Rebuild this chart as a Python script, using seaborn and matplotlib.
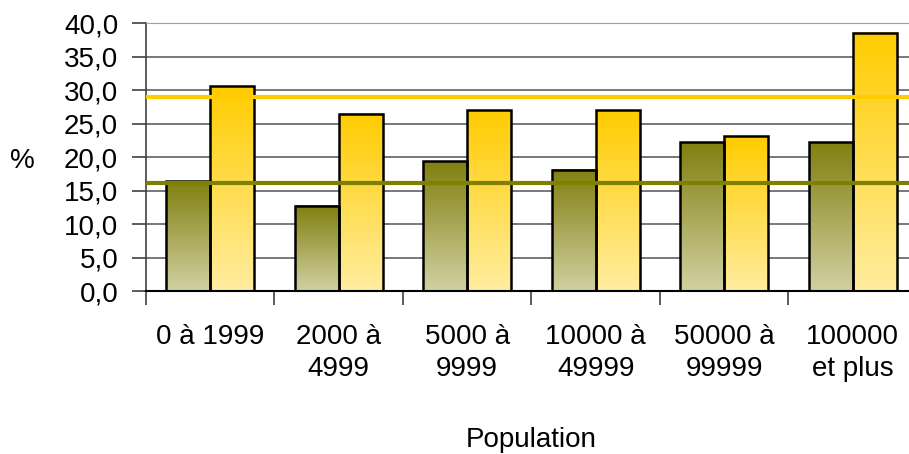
import numpy as np
import pandas as pd
import matplotlib
matplotlib.use("Agg")
import matplotlib.pyplot as plt
import seaborn as sns
from matplotlib.colors import LinearSegmentedColormap

# data
categories = ["0 à 1999", "2000 à\n4999", "5000 à\n9999", "10000 à\n49999", "50000 à\n99999", "100000\net plus"]
serie_verte = [16.4, 12.7, 19.4, 18.1, 22.2, 22.2]
serie_jaune = [30.6, 26.5, 27.0, 27.0, 23.1, 38.6]
moyenne_verte = 16.1
moyenne_jaune = 28.9

sns.set_style("white")
plt.rcParams['font.family'] = ['Liberation Sans', 'DejaVu Sans']
plt.rcParams['text.color'] = 'black'
plt.rcParams['axes.labelcolor'] = 'black'
plt.rcParams['xtick.color'] = 'black'
plt.rcParams['ytick.color'] = 'black'

df = pd.DataFrame({
    "cat": categories * 2,
    "serie": ["verte"] * 6 + ["jaune"] * 6,
    "val": serie_verte + serie_jaune,
})

fig = plt.figure(figsize=(9.09, 4.54), dpi=100)
ax = fig.add_axes([0.1606, 0.359, 0.848, 0.590])

sns.barplot(data=df, x="cat", y="val", hue="serie", palette=["#808010", "#ffcc00"],
            width=0.685, legend=False, ax=ax, zorder=2, saturation=1)

# gradient fill for the bars
cmap_v = LinearSegmentedColormap.from_list("v", ["#d2d0a2", "#808010"])
cmap_j = LinearSegmentedColormap.from_list("j", ["#ffeda0", "#ffcc00"])
grad = np.linspace(0, 1, 256).reshape(-1, 1)
for i, p in enumerate(list(ax.patches)):
    x0, y0 = p.get_x(), p.get_y()
    w, h = p.get_width(), p.get_height()
    cmap = cmap_v if i < 6 else cmap_j
    im = ax.imshow(grad, cmap=cmap, origin="lower", aspect="auto",
                   extent=[x0, x0 + w, y0, y0 + h], zorder=2)
    p.set_facecolor("none")
    p.set_edgecolor("black")
    p.set_linewidth(1.8)
    p.set_zorder(3)

ax.set_xlim(-0.5, 5.5)
ax.set_ylim(0, 40)

ax.axhline(moyenne_jaune, color="#ffcc00", lw=3, zorder=4)
ax.axhline(moyenne_verte, color="#808000", lw=3, zorder=4)

ax.set_yticks(np.arange(0, 41, 5))
ax.set_yticklabels([f"{v:.1f}".replace(".", ",") for v in np.arange(0, 41, 5)])
ax.yaxis.grid(True, color="#606060", lw=1.2, zorder=0)
ax.set_axisbelow(True)

ax.set_xticks(range(6))
ax.set_xticklabels(categories, linespacing=1.3)
ax.set_xticks(np.arange(-0.5, 6, 1), minor=True)
ax.tick_params(axis="x", which="major", bottom=False, length=0, pad=24, labelsize=20)
ax.tick_params(axis="x", which="minor", bottom=True, length=10, width=1.2, color="#404040")
ax.tick_params(axis="y", left=True, length=10, width=1.2, color="#404040", labelsize=20, pad=10)
ax.tick_params(axis="both", direction="out")

ax.spines["right"].set_visible(False)
ax.spines["top"].set_color("#a0a0a0")
ax.spines["left"].set_color("#404040")
ax.spines["bottom"].set_color("#000000")
ax.spines["left"].set_linewidth(1.2)
ax.spines["bottom"].set_linewidth(1.5)

ax.set_xlabel("Population", fontsize=20, labelpad=32)
ax.set_ylabel("%", fontsize=20, rotation=0, va="center", ha="center")
ax.yaxis.set_label_coords(-0.16, 0.485)

fig.savefig("out.png", dpi=100)
